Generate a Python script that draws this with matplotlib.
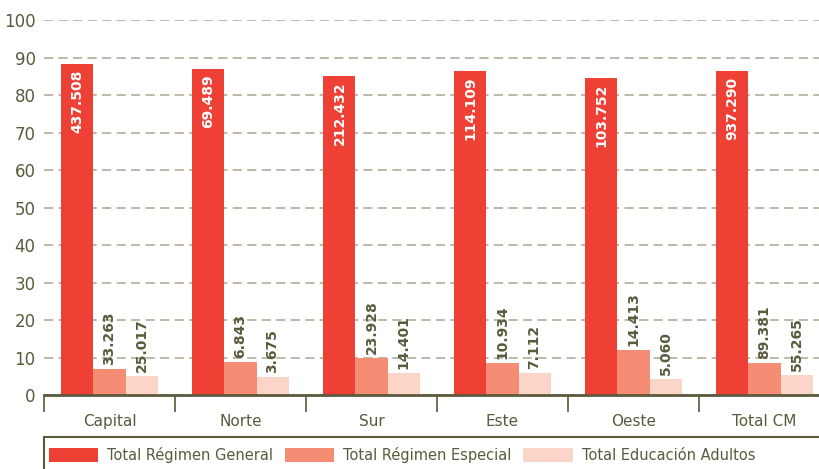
import numpy as np
import matplotlib
matplotlib.use("Agg")
import matplotlib.pyplot as plt
from matplotlib.patches import Rectangle

# zones and values (bar height = percent, label = number of students)
zonas = ["Capital", "Norte", "Sur", "Este", "Oeste", "Total CM"]
pct_general = [88.3, 86.9, 85.0, 86.4, 84.5, 86.4]
pct_especial = [6.9, 8.8, 9.9, 8.5, 12.0, 8.5]
pct_adultos = [5.1, 4.8, 5.9, 5.9, 4.3, 5.3]
lbl_general = ["437.508", "69.489", "212.432", "114.109", "103.752", "937.290"]
lbl_especial = ["33.263", "6.843", "23.928", "10.934", "14.413", "89.381"]
lbl_adultos = ["25.017", "3.675", "14.401", "7.112", "5.060", "55.265"]
series_names = ["Total Régimen General", "Total Régimen Especial", "Total Educación Adultos"]
colores = ["#ee4035", "#f48d73", "#fbd5c7"]

olive = "#5b5a3c"
plt.rcParams["font.family"] = ["DejaVu Sans"]

fig = plt.figure(figsize=(8.2, 4.69), dpi=100)
ax = fig.add_axes([44 / 820, 1 - 395 / 469, 786 / 820, 375 / 469])

x = np.arange(len(zonas))
w = 0.245
bars_g = ax.bar(x - w, pct_general, w, color=colores[0], label=series_names[0], zorder=3)
bars_e = ax.bar(x, pct_especial, w, color=colores[1], label=series_names[1], zorder=3)
bars_a = ax.bar(x + w, pct_adultos, w, color=colores[2], label=series_names[2], zorder=3)

# value labels
for b, t in zip(bars_g, lbl_general):
    ax.annotate(t, (b.get_x() + b.get_width() / 2, b.get_height()), xytext=(0, -4),
                textcoords="offset points", rotation=90, ha="center", va="top",
                color="white", fontsize=10, fontweight="bold", zorder=4)
for bars, labels in [(bars_e, lbl_especial), (bars_a, lbl_adultos)]:
    for b, t in zip(bars, labels):
        ax.annotate(t, (b.get_x() + b.get_width() / 2, b.get_height()), xytext=(0, 3),
                    textcoords="offset points", rotation=90, ha="center", va="bottom",
                    color=olive, fontsize=10, fontweight="bold", zorder=4)

ax.set_ylim(0, 100)
ax.set_xlim(-0.5, len(zonas) - 0.5)
ax.set_yticks(range(0, 101, 10))
ax.yaxis.grid(True, linestyle=(0, (6, 3.5)), color="#aaa693", linewidth=1.1, zorder=0)
ax.tick_params(axis="y", length=0, labelsize=12, labelcolor=olive, pad=6)

ax.set_xticks(x)
ax.set_xticklabels(zonas)
ax.set_xticks(np.arange(-0.5, len(zonas)), minor=True)
ax.tick_params(axis="x", which="major", length=0, labelsize=11, labelcolor=olive, pad=14)
ax.tick_params(axis="x", which="minor", length=12, width=1.2, color=olive, direction="out")

for s in ["top", "right", "left"]:
    ax.spines[s].set_visible(False)
ax.spines["bottom"].set_color(olive)
ax.spines["bottom"].set_linewidth(2)
ax.spines["bottom"].set_zorder(5)

# legend with a box running off the bottom/right
fig.legend(loc="center left", bbox_to_anchor=(43 / 820, 1 - 455 / 469), ncol=3,
           frameon=False, fontsize=10.5, labelcolor=olive, handlelength=3.4,
           handleheight=1.0, handletextpad=0.6, columnspacing=0.8, borderaxespad=0)
fig.add_artist(Rectangle((44 / 820, -0.2), 1.0, 0.2 + (469 - 437) / 469,
                         transform=fig.transFigure, fill=False, edgecolor=olive, lw=1.5))

fig.savefig("out.png", dpi=100)
